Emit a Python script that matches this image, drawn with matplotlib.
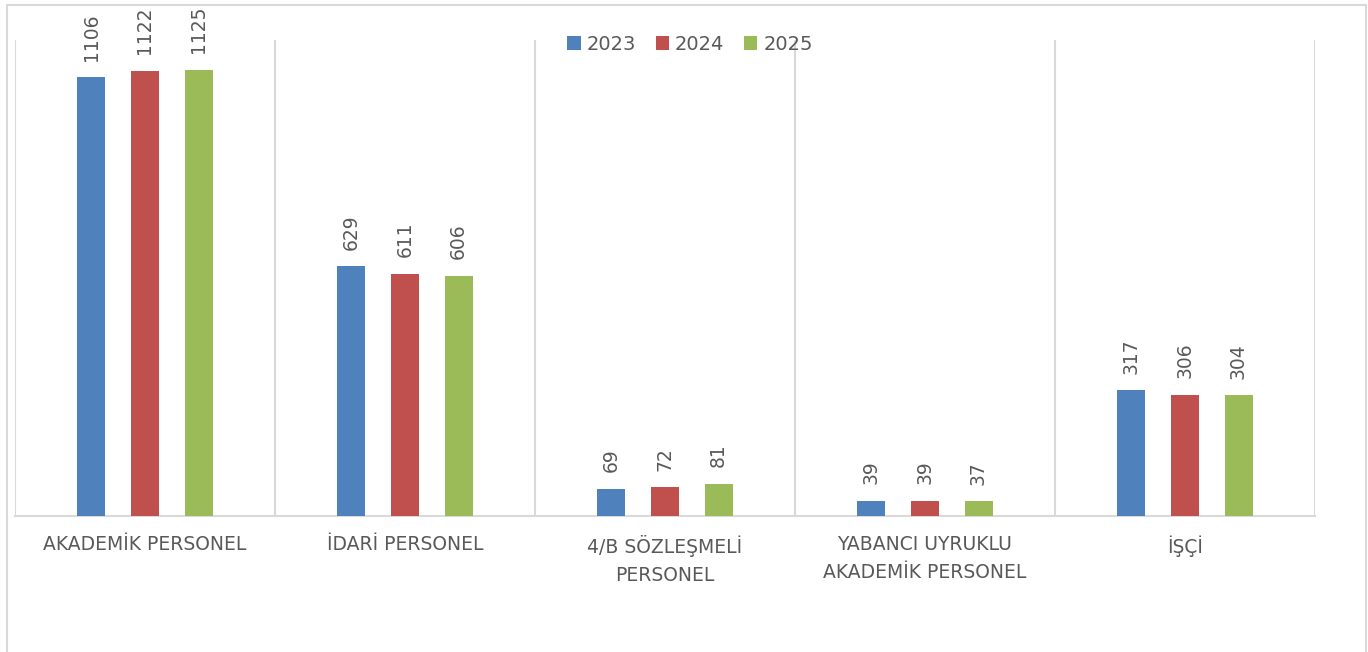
import matplotlib
matplotlib.use("Agg")
import matplotlib.pyplot as plt
import numpy as np
from matplotlib.patches import Rectangle

categories = ["AKADEMİK PERSONEL", "İDARİ PERSONEL", "4/B SÖZLEŞMELİ\nPERSONEL",
              "YABANCI UYRUKLU\nAKADEMİK PERSONEL", "İŞÇİ"]
years = ["2023", "2024", "2025"]
values_2023 = [1106, 629, 69, 39, 317]
values_2024 = [1122, 611, 72, 39, 306]
values_2025 = [1125, 606, 81, 37, 304]
colors = ["#4F81BD", "#C0504D", "#9BBB59"]

W, H = 1368, 652
fig = plt.figure(figsize=(W / 100, H / 100), dpi=100)
ax = fig.add_axes([15 / W, (H - 516) / H, 1300 / W, 476 / H])

x = np.arange(len(categories))
series = [values_2023, values_2024, values_2025]
offsets = [-0.206, 0.0, 0.206]
width = 0.108
text_color = "#595959"
for vals, off, col, yr in zip(series, offsets, colors, years):
    bars = ax.bar(x + off, vals, width, color=col, label=yr, zorder=3)
    for b, v in zip(bars, vals):
        ax.annotate(str(v), (b.get_x() + b.get_width() / 2, v),
                    xytext=(0, 12), textcoords="offset points",
                    rotation=90, ha="center", va="bottom",
                    fontsize=13.5, color=text_color)

ax.set_xlim(-0.5, len(categories) - 0.5)
ax.set_ylim(0, 1200)
ax.set_yticks([])
ax.set_xticks(x)
ax.set_xticklabels(categories, fontsize=13.5, color=text_color, linespacing=1.55, va="top")
ax.tick_params(axis="x", length=0, pad=14)
ax.set_xticks(np.arange(-0.5, len(categories)), minor=True)
ax.tick_params(axis="x", which="minor", length=0)
ax.grid(True, axis="x", which="minor", color="#d9d9d9", linewidth=1.5, zorder=0)
ax.grid(False, axis="x", which="major")
for s in ["left", "right", "top"]:
    ax.spines[s].set_visible(False)
ax.spines["bottom"].set_color("#d9d9d9")
ax.spines["bottom"].set_linewidth(1.5)

leg = fig.legend(loc="center", bbox_to_anchor=(690 / W, (H - 44) / H), ncol=3,
                 frameon=False, fontsize=14, handlelength=0.7, handleheight=0.7,
                 handletextpad=0.3, columnspacing=1.0, labelcolor=text_color)

fig.patches.append(Rectangle((7 / W, -0.05), (1366 - 7) / W, (H - 5) / H + 0.05,
                             transform=fig.transFigure, fill=False,
                             edgecolor="#d9d9d9", linewidth=1.5))

fig.savefig("out.png", dpi=100)
